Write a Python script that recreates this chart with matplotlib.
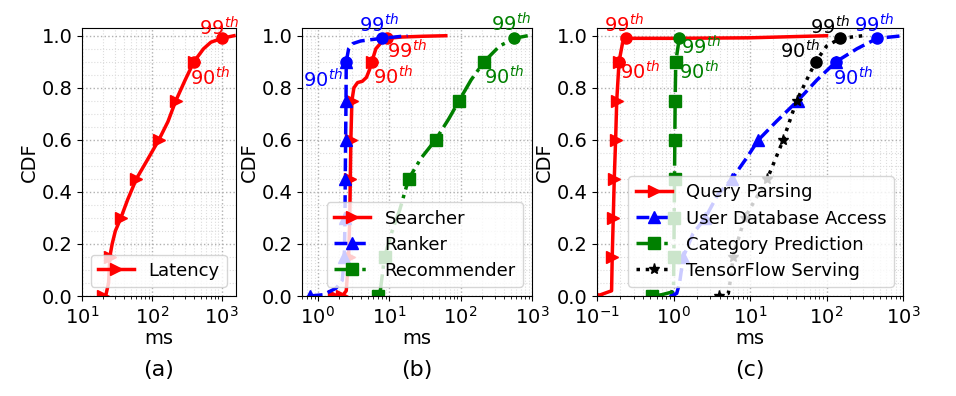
import matplotlib
matplotlib.use('Agg')
import matplotlib.pyplot as plt
from matplotlib.ticker import MultipleLocator, LogLocator, NullFormatter

# ---- data ----
# (a) end-to-end latency
lat_x = [20, 22, 24, 25, 27, 30, 36, 45, 60, 85, 126, 170, 220, 300, 400, 550, 700, 1000, 1500]
lat_y = [0.0, 0.005, 0.05, 0.15, 0.2, 0.25, 0.3, 0.37, 0.45, 0.52, 0.6, 0.67, 0.75, 0.83, 0.9, 0.95, 0.975, 0.99, 1.0]

# (b) microservices
searcher_x = [1.7, 2.2, 2.5, 2.7, 2.8, 2.85, 2.9, 3.0, 3.2, 3.6, 4.2, 4.8, 5.3, 5.7, 6.5, 7.5, 9.3, 15, 30, 62]
searcher_y = [0.0, 0.0, 0.02, 0.15, 0.3, 0.45, 0.6, 0.75, 0.8, 0.82, 0.825, 0.84, 0.87, 0.9, 0.95, 0.97, 0.99, 0.995, 0.998, 1.0]
ranker_x = [0.77, 1.2, 1.8, 2.2, 2.35, 2.4, 2.42, 2.45, 2.48, 2.5, 2.7, 3.1, 4.0, 7.9, 18]
ranker_y = [0.0, 0.005, 0.03, 0.06, 0.15, 0.3, 0.45, 0.6, 0.75, 0.9, 0.95, 0.97, 0.98, 0.99, 1.0]
recomm_x = [7, 7.5, 8.6, 11, 14, 18.7, 28, 44.6, 68, 95, 140, 213, 350, 560, 870]
recomm_y = [0.0, 0.02, 0.15, 0.25, 0.33, 0.45, 0.53, 0.6, 0.68, 0.75, 0.83, 0.9, 0.96, 0.99, 1.0]

# (c) recommender internals
qp_x = [0.1, 0.155, 0.158, 0.163, 0.168, 0.175, 0.181, 0.194, 0.215, 0.239, 1, 10, 100]
qp_y = [0.0, 0.02, 0.15, 0.3, 0.45, 0.6, 0.75, 0.9, 0.97, 0.99, 0.99, 0.992, 1.0]
db_x = [0.95, 1.1, 1.2, 1.34, 1.8, 2.6, 3.8, 5.8, 9, 12.9, 22, 41.9, 75, 133, 250, 460, 1000]
db_y = [0.0, 0.01, 0.05, 0.15, 0.24, 0.3, 0.39, 0.45, 0.53, 0.6, 0.67, 0.75, 0.83, 0.9, 0.95, 0.99, 1.0]
cp_x = [0.52, 0.7, 0.95, 1.0, 1.01, 1.02, 1.03, 1.04, 1.05, 1.07, 1.19, 1.25]
cp_y = [0.0, 0.005, 0.015, 0.03, 0.15, 0.3, 0.45, 0.6, 0.75, 0.9, 0.99, 1.0]
tf_x = [3.9, 5.2, 5.6, 6.0, 8.5, 16.8, 27.2, 40.6, 55, 72, 100, 151, 300]
tf_y = [0.0, 0.01, 0.07, 0.15, 0.3, 0.45, 0.6, 0.75, 0.83, 0.9, 0.96, 0.99, 1.0]

marker_levels = [0.0, 0.15, 0.3, 0.45, 0.6, 0.75, 0.9]

plt.rcParams['font.family'] = 'DejaVu Sans'

fig = plt.figure(figsize=(9.56, 3.96), dpi=100)
ax_a = fig.add_axes([0.0858, 0.2525, 0.161, 0.677])
ax_b = fig.add_axes([0.3159, 0.2525, 0.2406, 0.677])
ax_c = fig.add_axes([0.6245, 0.2525, 0.3201, 0.677])


def draw(ax, xs, ys, color, ls, mk, label, off90, off99):
    idx = [i for i, v in enumerate(ys) if v in marker_levels]
    ax.plot(xs, ys, color=color, linestyle=ls, linewidth=2.5, marker=mk,
            markersize=8, markevery=idx, label=label)
    for lvl, off, txt in [(0.9, off90, '90$^{th}$'), (0.99, off99, '99$^{th}$')]:
        xp = xs[ys.index(lvl)]
        ax.plot([xp], [lvl], 'o', color=color, markersize=8)
        ax.annotate(txt, (xp, lvl), xytext=off, textcoords='offset pixels',
                    ha='center', va='center', color=color, fontsize=14)


def style(ax, xlim, caption):
    ax.set_xscale('log')
    ax.set_xlim(*xlim)
    ax.set_ylim(0, 1.03)
    ax.yaxis.set_major_locator(MultipleLocator(0.2))
    ax.yaxis.set_minor_locator(MultipleLocator(0.05))
    ax.xaxis.set_major_locator(LogLocator(base=10))
    ax.xaxis.set_minor_locator(LogLocator(base=10, subs=range(2, 10)))
    ax.xaxis.set_minor_formatter(NullFormatter())
    ax.grid(True, which='major', linestyle=':', color='#b0b0b0', linewidth=1)
    ax.grid(True, which='minor', linestyle=':', color='#dddddd', linewidth=0.8)
    ax.tick_params(labelsize=14)
    ax.tick_params(axis='y', which='minor', length=0)
    ax.set_xlabel('ms', fontsize=14, labelpad=1)
    ax.set_ylabel('CDF', fontsize=14, labelpad=2)
    ax.text(0.5, -0.276, caption, transform=ax.transAxes, ha='center', va='center', fontsize=16)
    ax.legend(loc='lower right', fontsize=13, handlelength=2.0, labelspacing=0.45,
              borderaxespad=0.5)


draw(ax_a, lat_x, lat_y, 'r', '-', '>', 'Latency', (16, -16), (-3, 10))
style(ax_a, (10, 1600), '(a)')

draw(ax_b, searcher_x, searcher_y, 'r', '-', '>', 'Searcher', (21, -15), (20, -13))
draw(ax_b, ranker_x, ranker_y, 'b', '--', '^', 'Ranker', (-23, -18), (-3, 13))
draw(ax_b, recomm_x, recomm_y, 'g', '-.', 's', 'Recommender', (20, -15), (-3, 14))
style(ax_b, (0.6, 1000), '(b)')

draw(ax_c, qp_x, qp_y, 'r', '-', '>', 'Query Parsing', (21, -10), (-2, 13))
draw(ax_c, db_x, db_y, 'b', '--', '^', 'User Database Access', (17, -16), (-3, 13))
draw(ax_c, cp_x, cp_y, 'g', '-.', 's', 'Category Prediction', (23, -10), (22, -9))
draw(ax_c, tf_x, tf_y, 'k', ':', '*', 'TensorFlow Serving', (-16, 11), (-10, 11))
style(ax_c, (0.1, 1000), '(c)')

plt.savefig('out.png', dpi=100)
